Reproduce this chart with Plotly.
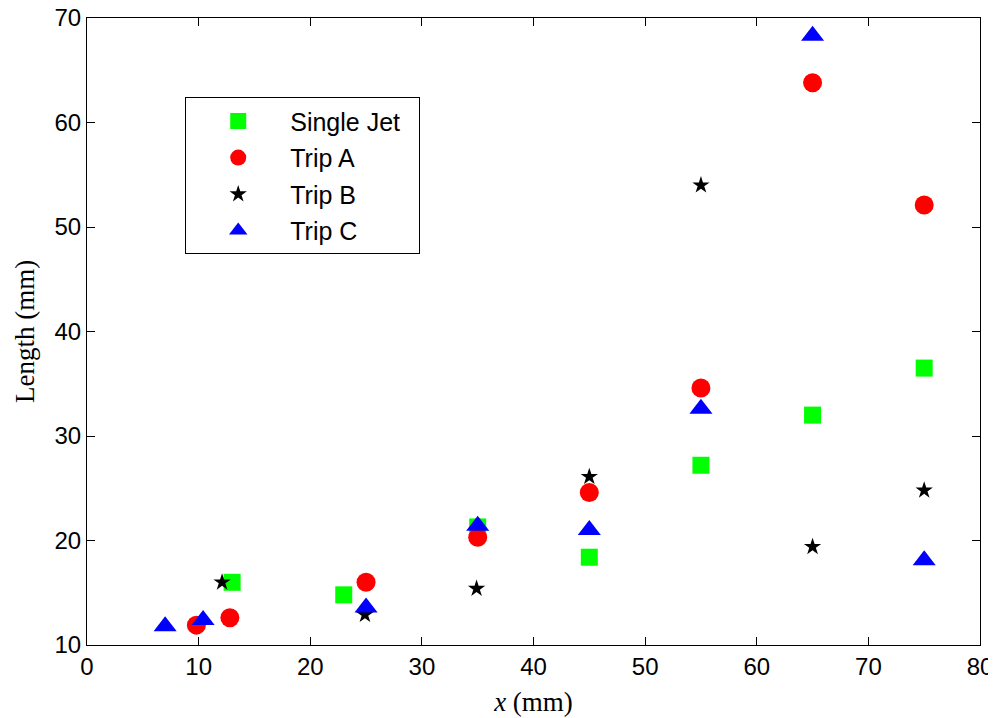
import plotly.graph_objects as go

# Data
single_x = [13, 23, 35, 45, 55, 65, 75]
single_y = [16.0, 14.8, 21.3, 18.4, 27.2, 32.0, 36.5]

tripA_x = [9.8, 12.8, 25, 35, 45, 55, 65, 75]
tripA_y = [11.9, 12.6, 16.0, 20.3, 24.6, 34.6, 63.8, 52.1]

tripB_x = [12.1, 24.9, 34.9, 45, 55, 65, 75]
tripB_y = [16.0, 12.9, 15.4, 26.1, 54.0, 19.4, 24.8]

tripC_x = [7.0, 10.4, 25, 35, 45, 55, 65, 75]
tripC_y = [11.8, 12.4, 13.6, 21.4, 21.0, 32.6, 68.3, 18.1]

series_names = ["Single Jet", "Trip A", "Trip B", "Trip C"]

x_ticks = [0, 10, 20, 30, 40, 50, 60, 70, 80]
y_ticks = [10, 20, 30, 40, 50, 60, 70]

pad = "\u00a0\u00a0"

fig = go.Figure()
fig.add_trace(go.Scatter(x=single_x, y=single_y, mode="markers", name=series_names[0] + pad,
                         legendgroup="a",
                         marker=dict(symbol="square", size=17, color="#00FF00")))
fig.add_trace(go.Scatter(x=tripA_x, y=tripA_y, mode="markers", name=series_names[1],
                         legendgroup="b",
                         marker=dict(symbol="circle", size=19, color="#FF0000")))
fig.add_trace(go.Scatter(x=tripB_x, y=tripB_y, mode="markers", name=series_names[2],
                         legendgroup="c",
                         marker=dict(symbol="star", size=13, color="#000000")))
fig.add_trace(go.Scatter(x=tripC_x, y=tripC_y, mode="markers", name=series_names[3],
                         legendgroup="d",
                         marker=dict(symbol="triangle-up", size=20, color="#0000FF")))

axis_common = dict(
    showline=True, linecolor="black", linewidth=1, mirror="allticks",
    ticks="inside", ticklen=8, tickcolor="black", tickwidth=1,
    showgrid=False, zeroline=False, automargin=False,
    ticklabeloverflow="allow",
    tickfont=dict(family="Liberation Sans, Arial", size=24, color="black"),
)

title_font = dict(family="Liberation Serif, Times New Roman", size=27, color="black")

# page body has an 8px default margin, so the figure is sized to fit the window
fig.update_layout(
    width=988, height=710,
    margin=dict(l=79, r=16, t=10, b=73),
    paper_bgcolor="white", plot_bgcolor="white",
    xaxis=dict(range=[0, 80], tickvals=x_ticks,
               title=dict(text="<i>x</i> (mm)", standoff=13, font=title_font),
               **axis_common),
    yaxis=dict(range=[10, 70], tickvals=y_ticks,
               title=dict(text="Length (mm)", standoff=12, font=title_font),
               **axis_common),
    legend=dict(x=0.110, y=0.8735, xanchor="left", yanchor="top",
                bgcolor="white", bordercolor="black", borderwidth=1,
                tracegroupgap=1, itemwidth=94,
                font=dict(family="Liberation Sans, Arial", size=25, color="black")),
    showlegend=True,
)

fig.write_html("out.html")
